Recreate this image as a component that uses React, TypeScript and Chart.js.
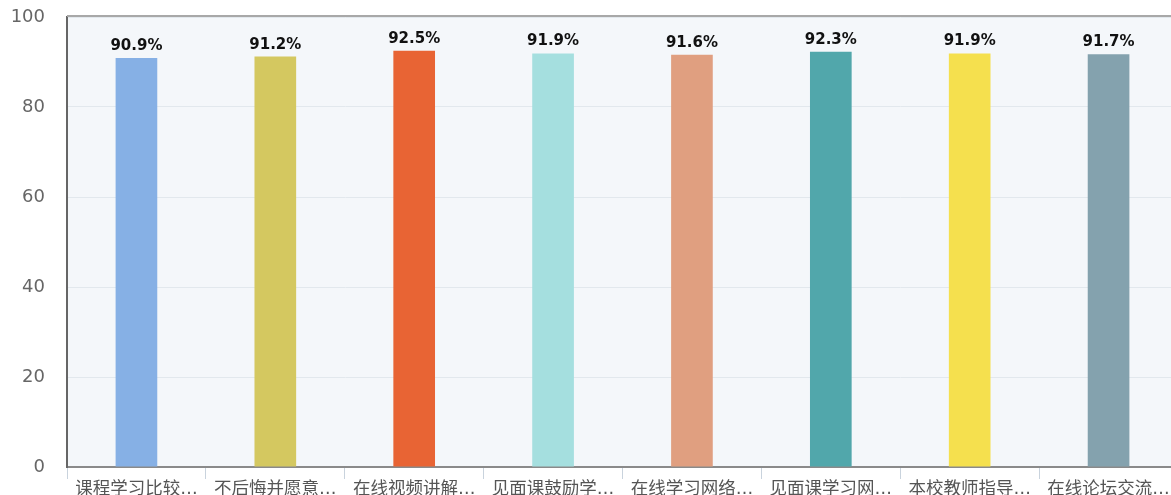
import React, { useEffect, useRef } from "react";
import { Chart, registerables } from "chart.js";

Chart.register(...registerables);

const categories = [
  "课程学习比较…",
  "不后悔并愿意…",
  "在线视频讲解…",
  "见面课鼓励学…",
  "在线学习网络…",
  "见面课学习网…",
  "本校教师指导…",
  "在线论坛交流…",
];
const values = [90.9, 91.2, 92.5, 91.9, 91.6, 92.3, 91.9, 91.7];
const barColors = [
  "#86b0e5",
  "#d4c860",
  "#e86434",
  "#a5dfdf",
  "#e09f80",
  "#51a7ab",
  "#f5e04e",
  "#84a2ae",
];
const yTicks = [0, 20, 40, 60, 80, 100];

const FONT = '"DejaVu Sans", "Noto Sans CJK SC", sans-serif';

const framePlugin = {
  id: "frame",
  beforeDraw(chart: any) {
    const { ctx, chartArea } = chart;
    ctx.save();
    ctx.fillStyle = "#f4f7fa";
    ctx.fillRect(chartArea.left, chartArea.top, chartArea.right - chartArea.left, chartArea.bottom - chartArea.top);
    ctx.restore();
  },
  afterDraw(chart: any) {
    const { ctx, chartArea } = chart;
    ctx.save();
    ctx.strokeStyle = "#a8a8a8";
    ctx.lineWidth = 2;
    ctx.beginPath();
    ctx.moveTo(chartArea.left, chartArea.top - 1);
    ctx.lineTo(chartArea.right, chartArea.top - 1);
    ctx.stroke();
    ctx.restore();
  },
};

const labelPlugin = {
  id: "barLabels",
  afterDatasetsDraw(chart: any) {
    const { ctx } = chart;
    const meta = chart.getDatasetMeta(0);
    ctx.save();
    ctx.font = `bold 15px ${FONT}`;
    ctx.fillStyle = "#111";
    ctx.textAlign = "center";
    ctx.textBaseline = "alphabetic";
    meta.data.forEach((bar: any, i: number) => {
      ctx.fillText(values[i].toFixed(1) + "%", bar.x, bar.y - 8);
    });
    ctx.restore();
  },
};

export default function App() {
  const ref = useRef<HTMLCanvasElement | null>(null);
  useEffect(() => {
    if (!ref.current) return;
    const chart = new Chart(ref.current, {
      type: "bar",
      data: {
        labels: categories,
        datasets: [
          {
            data: values,
            backgroundColor: barColors,
            borderWidth: 0,
            barPercentage: 0.3,
            categoryPercentage: 1,
          },
        ],
      },
      plugins: [framePlugin, labelPlugin],
      options: {
        animation: false,
        responsive: true,
        maintainAspectRatio: false,
        layout: { padding: { top: 17, right: 1, left: 0, bottom: 0 } },
        plugins: { legend: { display: false }, tooltip: { enabled: false } },
        scales: {
          x: {
            grid: {
              display: true,
              drawOnChartArea: false,
              drawTicks: true,
              tickLength: 12,
              offset: true,
              color: "#c9d3dd",
            },
            border: { display: true, color: "#8a8a8a", width: 2 },
            ticks: {
              padding: 0,
              font: { family: FONT, size: 17.5 },
              color: "#555",
              maxRotation: 0,
              autoSkip: false,
            },
            afterFit(scale: any) {
              scale.height = 28;
            },
          },
          y: {
            min: 0,
            max: 100,
            afterBuildTicks(scale: any) {
              scale.ticks = yTicks.map((v) => ({ value: v }));
            },
            grid: { color: "#e2e8ed", drawTicks: true, tickLength: 20, tickColor: "rgba(0,0,0,0)", lineWidth: 1 },
            border: { display: true, color: "#666", width: 2 },
            ticks: {
              padding: 2,
              font: { family: FONT, size: 18 },
              color: "#666",
            },
            afterFit(scale: any) {
              scale.width = 67;
            },
          },
        },
      },
    });
    return () => chart.destroy();
  }, []);
  return (
    <div style={{ position: "fixed", left: 0, top: 0, width: 1171, height: 495, overflow: "hidden", background: "#fff" }}>
      <div style={{ position: "relative", width: 1179, height: 495 }}>
        <canvas ref={ref} />
      </div>
    </div>
  );
}
